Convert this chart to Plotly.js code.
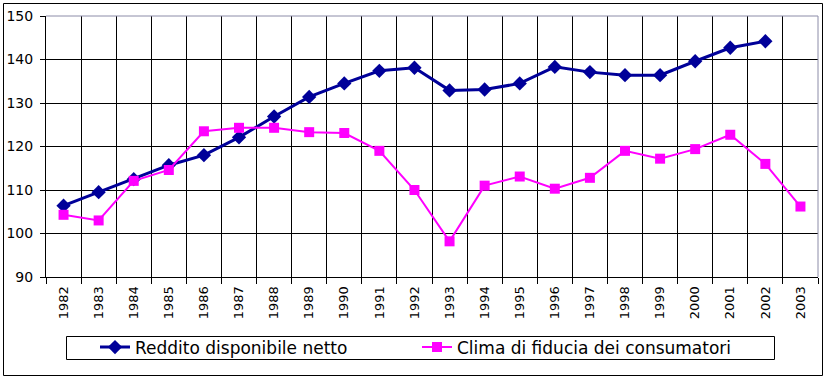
<!DOCTYPE html>
<html><head><meta charset="utf-8">
<script src="https://cdn.plot.ly/plotly-3.0.1.min.js"></script>
<style>html,body{margin:0;padding:0;background:#fff}#chart{width:825px;height:384px}</style>
</head><body><div id="chart"></div>
<script>
const years = ['1982','1983','1984','1985','1986','1987','1988','1989','1990','1991','1992','1993','1994','1995','1996','1997','1998','1999','2000','2001','2002','2003'];
const reddito = [106.4,109.5,112.5,115.7,118.0,122.1,126.9,131.4,134.5,137.4,138.1,132.9,133.1,134.5,138.3,137.1,136.4,136.4,139.6,142.7,144.2,null];
const fiducia = [104.3,103.0,112.1,114.6,123.5,124.3,124.3,123.3,123.1,119.0,110.0,98.2,111.0,113.1,110.3,112.8,119.0,117.2,119.4,122.7,116.0,106.2];
const names = ['Reddito disponibile netto','Clima di fiducia dei consumatori'];

const F = 'DejaVu Sans, Verdana, sans-serif';
const L = 46, R = 818, T = 16, B = 277;
const pw = R - L, ph = B - T;
const px = x => (x - L) / pw;
const py = y => (B - y) / ph;

const traces = [
  {x: years, y: reddito, name: names[0], type: 'scatter', mode: 'lines+markers',
   line: {color: '#000099', width: 3}, marker: {symbol: 'diamond', size: 11, color: '#000099'}},
  {x: years, y: fiducia, name: names[1], type: 'scatter', mode: 'lines+markers',
   line: {color: '#FF00FF', width: 2}, marker: {symbol: 'square', size: 10, color: '#FF00FF'}}
];

const layout = {
  width: 825, height: 384,
  margin: {l: L, r: 825 - R, t: T, b: 384 - B, pad: 0, autoexpand: false},
  paper_bgcolor: '#fff', plot_bgcolor: '#fff',
  font: {family: F, size: 12, color: '#000'},
  showlegend: true,
  legend: {orientation: 'h', x: px(95), y: py(347.5), xanchor: 'left', yanchor: 'middle',
    font: {family: F, size: 17, color: '#000'}, entrywidth: 277, entrywidthmode: 'pixels',
    bgcolor: 'rgba(0,0,0,0)', borderwidth: 0, itemclick: false},
  xaxis: {type: 'category', tickson: 'boundaries', ticks: 'outside', ticklen: 6, tickcolor: '#000',
    showgrid: true, gridcolor: '#000', gridwidth: 1, showline: true, linecolor: '#000', linewidth: 1,
    tickangle: -90, tickfont: {family: F, size: 13, color: '#000'}, range: [-0.5, 21.5],
    ticklabelstandoff: 3, automargin: false, fixedrange: true},
  yaxis: {range: [90, 150], dtick: 10, ticks: 'outside', ticklen: 5, tickcolor: '#000',
    showgrid: true, gridcolor: '#000', gridwidth: 1, showline: true, linecolor: '#000', linewidth: 1,
    tickfont: {family: F, size: 14, color: '#000'}, zeroline: false, ticklabelstandoff: 4,
    automargin: false, fixedrange: true},
  shapes: [
    {type: 'line', xref: 'paper', yref: 'paper', x0: 0, x1: 1, y0: 1, y1: 1, line: {color: '#8c8ca8', width: 1}},
    {type: 'line', xref: 'paper', yref: 'paper', x0: 1, x1: 1, y0: 0, y1: 1, line: {color: '#8c8ca8', width: 1}},
    {type: 'rect', xref: 'paper', yref: 'paper', x0: px(66.5), x1: px(774.5), y0: py(336.5), y1: py(359.5), line: {color: '#000', width: 1}},
    {type: 'rect', xref: 'paper', yref: 'paper', x0: px(3.5), x1: px(822.5), y0: py(3.5), y1: py(375.5), line: {color: '#000', width: 1}}
  ]
};
Plotly.newPlot('chart', traces, layout, {staticPlot: true, displayModeBar: false});
</script></body></html>
